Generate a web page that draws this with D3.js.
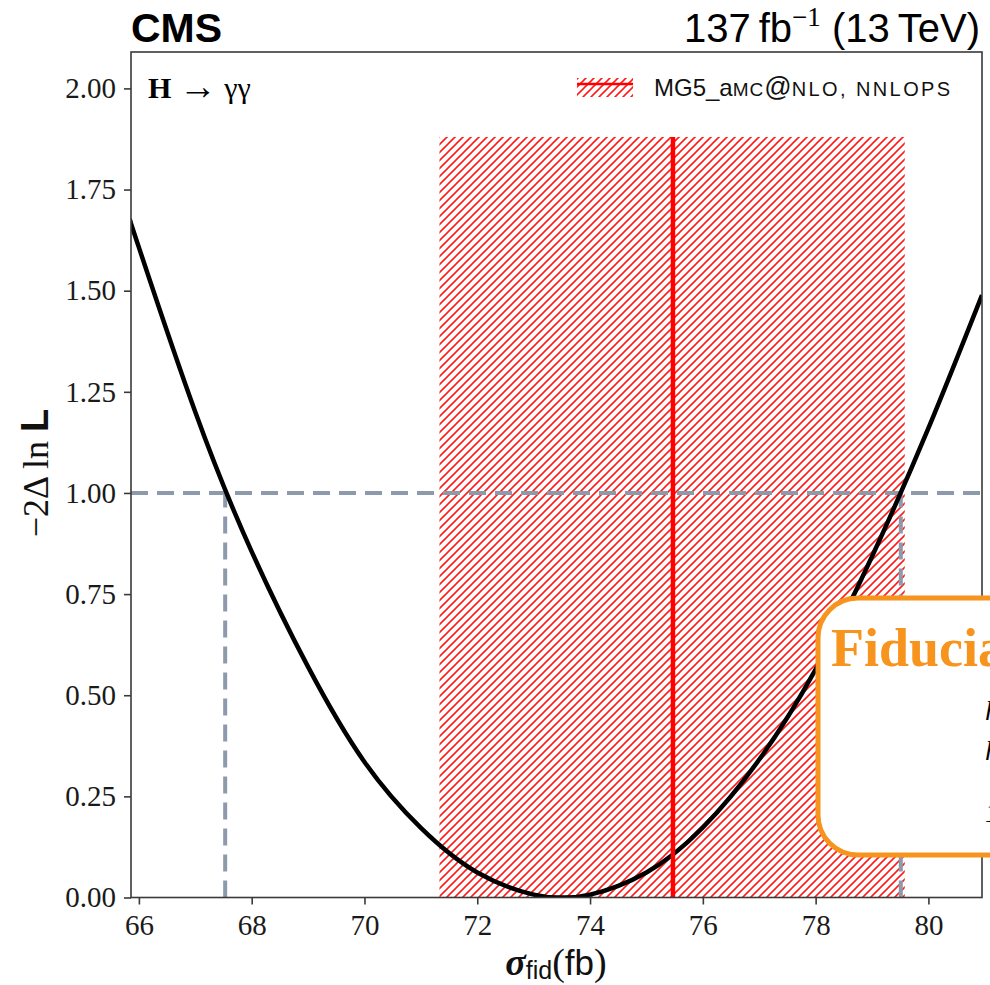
<!DOCTYPE html>
<html>
<head>
<meta charset="utf-8">
<script src="https://cdn.jsdelivr.net/npm/d3@7"></script>
<style>
  html, body { margin: 0; padding: 0; background: #fff; }
  svg { display: block; }
</style>
</head>
<body>
<svg id="chart" width="990" height="985"></svg>
<script>
// Likelihood scan of the fiducial cross section
const sigmaScan = [65.86, 66, 67, 68, 69, 70, 71, 72, 73, 73.5, 74, 75, 76, 77, 78, 79, 80, 80.95];
const nllScan   = [1.667, 1.607, 1.20, 0.855, 0.57, 0.335, 0.172, 0.062, 0.007, 0.0, 0.007, 0.062, 0.173, 0.341, 0.564, 0.843, 1.16, 1.489];

// 68% interval read at -2ΔlnL = 1
const intervalLevel = 1.0;
const intervalEdges = [67.53, 79.51];

// Theory prediction (central value and uncertainty band)
const predCentral = 75.47;
const predBand = [71.33, 79.58];
const predBandTop = 1.88;

// Axis ticks
const xTicks = [66, 68, 70, 72, 74, 76, 78, 80];
const yTicks = [0, 0.25, 0.5, 0.75, 1.0, 1.25, 1.5, 1.75, 2.0];
const xDomain = [65.86, 80.95];
const yDomain = [0, 2.09];

const svg = d3.select("#chart");
const L = 131, R = 982, T = 52, B = 897.5;

const x = d3.scaleLinear().domain(xDomain).range([L, R]);
const y = d3.scaleLinear().domain(yDomain).range([B, T]);

// Diagonal hatch pattern
const defs = svg.append("defs");
const pat = defs.append("pattern")
  .attr("id", "hatch")
  .attr("patternUnits", "userSpaceOnUse")
  .attr("width", 8).attr("height", 8);
pat.append("path")
  .attr("d", "M-2,2 L2,-2 M0,8 L8,0 M6,10 L10,6")
  .attr("stroke", "#ff1a1a").attr("stroke-width", 1.6).attr("fill", "none");

defs.append("clipPath").attr("id", "plotclip")
  .append("rect").attr("x", L).attr("y", T).attr("width", R - L).attr("height", B - T);

const plot = svg.append("g").attr("clip-path", "url(#plotclip)");

// Prediction band
plot.append("rect")
  .attr("x", x(predBand[0]))
  .attr("y", y(predBandTop))
  .attr("width", x(predBand[1]) - x(predBand[0]))
  .attr("height", y(0) - y(predBandTop))
  .attr("fill", "url(#hatch)");

// Interval guide lines
const guide = "#8d9aab";
plot.append("line")
  .attr("x1", L).attr("x2", R)
  .attr("y1", y(intervalLevel)).attr("y2", y(intervalLevel))
  .attr("stroke", guide).attr("stroke-width", 4).attr("stroke-dasharray", "17,9");
intervalEdges.forEach(v => {
  plot.append("line")
    .attr("x1", x(v)).attr("x2", x(v))
    .attr("y1", y(0)).attr("y2", y(intervalLevel))
    .attr("stroke", guide).attr("stroke-width", 4).attr("stroke-dasharray", "17,9");
});

// Scan curve
const line = d3.line()
  .x((d, i) => x(sigmaScan[i]))
  .y(d => y(d))
  .curve(d3.curveNatural);
plot.append("path")
  .datum(nllScan)
  .attr("d", line)
  .attr("fill", "none")
  .attr("stroke", "#000")
  .attr("stroke-width", 4.5);

// Prediction central value
plot.append("line")
  .attr("x1", x(predCentral)).attr("x2", x(predCentral))
  .attr("y1", y(0)).attr("y2", y(predBandTop))
  .attr("stroke", "#ff0000").attr("stroke-width", 4.5);

// Frame
svg.append("rect")
  .attr("x", L).attr("y", T).attr("width", R - L).attr("height", B - T)
  .attr("fill", "none").attr("stroke", "#3a3a3a").attr("stroke-width", 1.6);

// Axes
const tickFont = "'Liberation Serif', 'Times New Roman', serif";
const sansFont = "'Liberation Sans', Arial, sans-serif";
const xAxis = d3.axisBottom(x).tickValues(xTicks).tickSize(7).tickPadding(8).tickFormat(d3.format("d"));
const yAxis = d3.axisLeft(y).tickValues(yTicks).tickSize(7).tickPadding(8).tickFormat(d3.format(".2f"));

const gx = svg.append("g").attr("transform", `translate(0,${B})`).call(xAxis);
const gy = svg.append("g").attr("transform", `translate(${L},0)`).call(yAxis);
[gx, gy].forEach(g => {
  g.select(".domain").remove();
  g.selectAll(".tick line").attr("stroke", "#3a3a3a").attr("stroke-width", 1.6);
  g.selectAll(".tick text")
    .attr("fill", "#1a1a1a")
    .style("font-family", tickFont)
    .style("font-size", "29px");
});
gx.selectAll(".tick text").attr("dy", "0.78em");

// Header
svg.append("text")
  .attr("x", L).attr("y", 42)
  .style("font-family", sansFont)
  .style("font-weight", "bold").style("font-size", "41px")
  .attr("fill", "#000").text("CMS");

const lumi = svg.append("text")
  .attr("x", 980).attr("y", 42).attr("text-anchor", "end")
  .style("font-family", sansFont)
  .style("font-size", "40px").attr("fill", "#000");
lumi.append("tspan").text("137\u2009fb");
lumi.append("tspan").attr("dy", -16).style("font-family", tickFont).style("font-size", "27px").text("\u22121");
lumi.append("tspan").attr("dy", 16).text(" (13\u2009TeV)");

// Channel label
const ch = svg.append("text")
  .attr("x", 148).attr("y", 98)
  .style("font-family", tickFont).style("font-size", "30px").attr("fill", "#000");
ch.append("tspan").style("font-weight", "bold").text("H");
ch.append("tspan").text(" ");
ch.append("tspan").style("font-size", "38px").attr("dy", 1).text("\u2192");
ch.append("tspan").attr("dy", -1).text(" \u03b3\u03b3");

// Legend
const lg = svg.append("g");
lg.append("rect").attr("x", 577).attr("y", 78).attr("width", 56).attr("height", 19).attr("fill", "url(#hatch)");
lg.append("line").attr("x1", 577).attr("x2", 633).attr("y1", 84).attr("y2", 84)
  .attr("stroke", "#ff0000").attr("stroke-width", 2.5);
const lt = lg.append("text").attr("x", 654).attr("y", 96)
  .style("font-family", sansFont)
  .style("font-size", "24px").attr("fill", "#111");
lt.append("tspan").text("MG5_a");
lt.append("tspan").style("font-size", "19px").style("letter-spacing", "1px").text("MC");
lt.append("tspan").style("font-size", "27px").text("@");
lt.append("tspan").style("font-size", "20px").style("letter-spacing", "2.4px").text("NLO, NNLOPS");

// Axis titles
const yl = svg.append("text")
  .attr("transform", "translate(48,473) rotate(-90)")
  .attr("text-anchor", "middle")
  .style("font-family", tickFont).style("font-size", "36px").attr("fill", "#111");
yl.append("tspan").text("\u22122\u0394 ln ");
yl.append("tspan").style("font-family", sansFont).style("font-weight", "bold").style("font-size", "38px").text("L");

const xl = svg.append("text")
  .attr("x", 556).attr("y", 975).attr("text-anchor", "middle")
  .style("font-family", tickFont).style("font-size", "38px").attr("fill", "#111");
xl.append("tspan").style("font-weight", "bold").style("font-style", "italic").text("\u03c3");
xl.append("tspan").attr("dy", 4).style("font-family", sansFont).style("font-size", "25px").text("fid");
xl.append("tspan").attr("dy", -4).text("(");
xl.append("tspan").style("font-family", sansFont).style("font-size", "35px").text("fb");
xl.append("tspan").text(")");

// Callout box
const box = svg.append("g");
box.append("rect")
  .attr("x", 818).attr("y", 598).attr("width", 260).attr("height", 257).attr("rx", 40)
  .attr("fill", "#fff").attr("stroke", "#f7941d").attr("stroke-width", 5);
box.append("text").attr("x", 831).attr("y", 666)
  .style("font-family", "'Liberation Serif', 'DejaVu Serif', serif")
  .style("font-weight", "bold").style("font-size", "54px").attr("fill", "#f7941d")
  .text("Fiducial cross section");
["hypothesis", "hypothesis", "1 fb"].forEach((t, i) => {
  box.append("text").attr("x", 985).attr("y", [720, 760, 822][i])
    .style("font-family", tickFont).style("font-style", "italic").style("font-size", "28px")
    .attr("fill", "#000").text(t);
});
</script>
</body>
</html>
